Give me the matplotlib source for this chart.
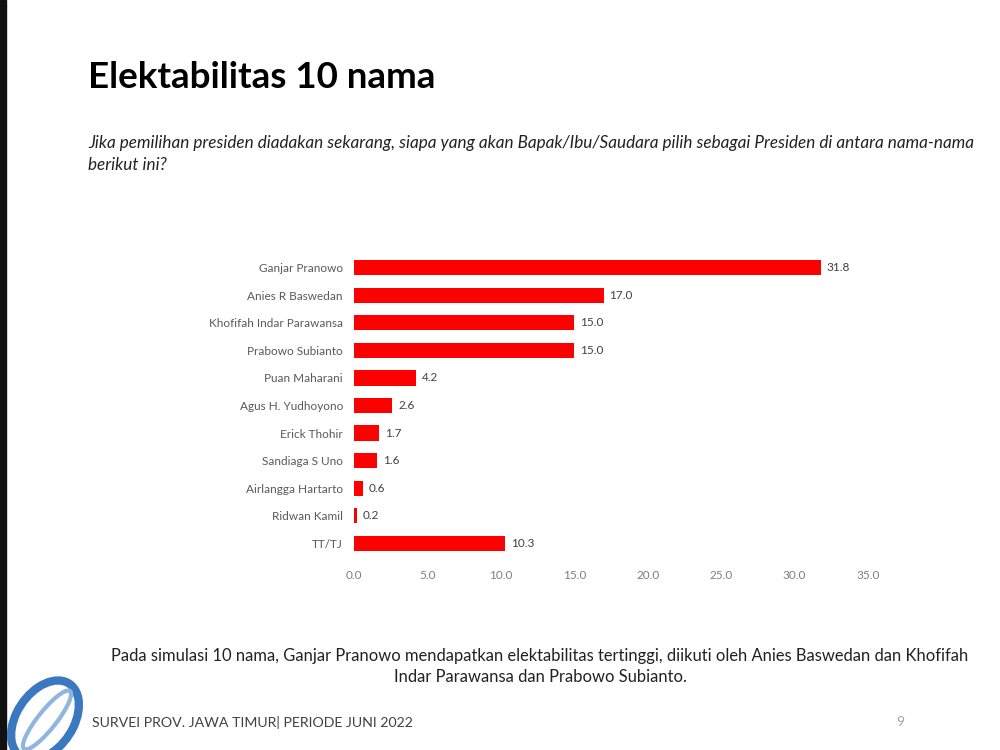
import matplotlib.pyplot as plt
from matplotlib.patches import Rectangle, Ellipse

names = ["Ganjar Pranowo", "Anies R Baswedan", "Khofifah Indar Parawansa",
         "Prabowo Subianto", "Puan Maharani", "Agus H. Yudhoyono", "Erick Thohir",
         "Sandiaga S Uno", "Airlangga Hartarto", "Ridwan Kamil", "TT/TJ"]
values = [31.8, 17.0, 15.0, 15.0, 4.2, 2.6, 1.7, 1.6, 0.6, 0.2, 10.3]
xticks = [0, 5, 10, 15, 20, 25, 30, 35]

plt.rcParams['font.family'] = ['Lato', 'DejaVu Sans']

fig = plt.figure(figsize=(10, 7.5), dpi=100)
fig.patch.set_facecolor('white')

ax = fig.add_axes([0.354, 0.2573, 0.514, 0.404])
pos = list(range(len(names)))
ax.barh(pos, values, height=0.55, color='#ff0000')
ax.set_ylim(len(names) - 0.5, -0.5)
ax.set_xlim(0, 35)
ax.set_xticks(xticks)
ax.set_xticklabels([f"{t:.1f}" for t in xticks], fontsize=8.5, color='#7f7f7f')
ax.set_yticks(pos)
ax.set_yticklabels(names, fontsize=8.5, color='#595959')
ax.tick_params(length=0, pad=8)
ax.tick_params(axis='x', pad=9)
for s in ax.spines.values():
    s.set_visible(False)
for p, v in zip(pos, values):
    ax.text(v + 0.4, p, f"{v:.1f}", va='center', ha='left', fontsize=8.5, color='#404040')

fig.text(0.088, 0.896, "Elektabilitas 10 nama", fontsize=26.5, fontweight='bold',
         color='black', va='center')
fig.text(0.088, 0.795, "Jika pemilihan presiden diadakan sekarang, siapa yang akan Bapak/Ibu/Saudara "
         "pilih sebagai Presiden di antara nama-nama\nberikut ini?",
         fontsize=12.3, style='italic', color='#222222', va='center', linespacing=1.45)
fig.text(0.54, 0.111, "Pada simulasi 10 nama, Ganjar Pranowo mendapatkan elektabilitas tertinggi, "
         "diikuti oleh Anies Baswedan dan Khofifah\nIndar Parawansa dan Prabowo Subianto.",
         fontsize=11.9, color='#222222', ha='center', va='center', linespacing=1.4)
fig.text(0.092, 0.037, "SURVEI PROV. JAWA TIMUR| PERIODE JUNI 2022", fontsize=10.2,
         color='#404040', va='center')
fig.text(0.9, 0.037, "9", fontsize=10, color='#a0a0a0', va='center', ha='center')

# dark left edge and logo
fig.patches.append(Rectangle((0, 0), 0.006, 1, transform=fig.transFigure, color='#111111'))
fig.patches.append(Ellipse((0.045, 0.04), 0.06, 0.11, angle=-20, transform=fig.transFigure,
                           facecolor='none', edgecolor='#3a78c0', lw=6))
fig.patches.append(Ellipse((0.047, 0.04), 0.02, 0.09, angle=-30, transform=fig.transFigure,
                           facecolor='none', edgecolor='#8fb6e0', lw=3))

fig.savefig('out.png', dpi=100)
